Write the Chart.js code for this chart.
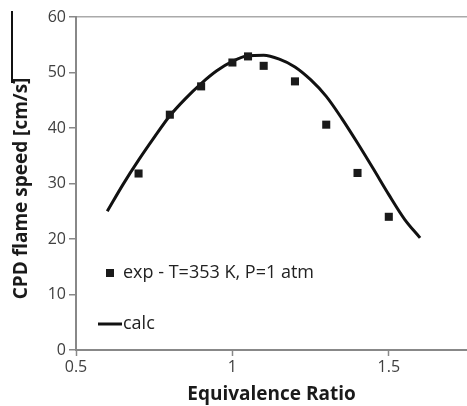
<!DOCTYPE html>
<html>
<head>
<meta charset="utf-8">
<script src="https://cdn.jsdelivr.net/npm/chart.js@4"></script>
<style>
    html, body { margin: 0; padding: 0; background: #fff; overflow: hidden; }
    #wrap { position: relative; width: 467px; height: 406px; }
    #speedChart { display: block; }
    /* 左上角的細黑線（原圖殘留） */
    #edge { position: absolute; left: 11px; top: 11px; width: 2px; height: 72px; background: #111; }
</style>
</head>
<body>
<div id="wrap">
    <canvas id="speedChart" width="467" height="406"></canvas>
    <div id="edge"></div>
</div>
<script>
// 實驗值（方塊）
const expPhi = [0.7, 0.8, 0.9, 1.0, 1.05, 1.1, 1.2, 1.3, 1.4, 1.5];
const expSpeed = [31.8, 42.4, 47.5, 51.8, 52.9, 51.2, 48.4, 40.6, 31.9, 24.0];

// 計算值（曲線）
const calcPhi = [0.6, 0.65, 0.7, 0.75, 0.8, 0.85, 0.9, 0.95, 1.0, 1.05, 1.1,
    1.15, 1.2, 1.25, 1.3, 1.35, 1.4, 1.45, 1.5, 1.55, 1.6];
const calcSpeed = [25.0, 29.8, 34.2, 38.3, 42.2, 45.3, 48.0, 50.3, 52.0, 53.0, 53.1,
    52.4, 51.0, 48.7, 45.7, 41.7, 37.3, 32.7, 28.0, 23.6, 20.2];

const xTicks = [0.5, 1, 1.5];
const yTicks = [0, 10, 20, 30, 40, 50, 60];

const expLabel = "exp - T=353 K, P=1 atm";
const calcLabel = "calc";

const FONT = "'Open Sans', sans-serif";

// 圖內圖例
const insideLegend = {
    id: "insideLegend",
    afterDraw(chart) {
        const { ctx, chartArea } = chart;
        const ds = chart.data.datasets;
        ctx.save();
        ctx.font = "18px " + FONT;
        ctx.textBaseline = "middle";

        // exp 方塊
        const y1 = chartArea.top + 256;
        ctx.fillStyle = ds[0].backgroundColor;
        ctx.fillRect(chartArea.left + 30, y1 - 4, 8, 8);
        ctx.fillStyle = "#222";
        ctx.fillText(ds[0].label, chartArea.left + 47, y1);

        // calc 線
        const y2 = chartArea.top + 307;
        ctx.strokeStyle = ds[1].borderColor;
        ctx.lineWidth = 3;
        ctx.beginPath();
        ctx.moveTo(chartArea.left + 22, y2);
        ctx.lineTo(chartArea.left + 46, y2);
        ctx.stroke();
        ctx.fillText(ds[1].label, chartArea.left + 47, y2);
        ctx.restore();
    }
};

const ctx = document.getElementById("speedChart").getContext("2d");
new Chart(ctx, {
    type: "scatter",
    data: {
        datasets: [{
            label: expLabel,
            data: expPhi.map((x, i) => ({ x, y: expSpeed[i] })),
            pointStyle: "rect",
            pointRadius: 5.7,
            backgroundColor: "#1a1a1a",
            borderColor: "#1a1a1a",
            borderWidth: 0,
            showLine: false
        }, {
            label: calcLabel,
            data: calcPhi.map((x, i) => ({ x, y: calcSpeed[i] })),
            showLine: true,
            borderColor: "#111",
            borderWidth: 3,
            pointRadius: 0,
            tension: 0.4,
            cubicInterpolationMode: "monotone",
            fill: false
        }]
    },
    options: {
        responsive: false,
        animation: false,
        layout: { autoPadding: false, padding: { top: 17, right: 0, left: 0, bottom: 0 } },
        scales: {
            x: {
                type: "linear",
                min: 0.5,
                max: 1.75,
                afterBuildTicks: (s) => { s.ticks = xTicks.map(v => ({ value: v })); },
                afterFit: (s) => { s.height = 56; s.paddingRight = 0; },
                border: { color: "#888", width: 2 },
                grid: { display: true, drawOnChartArea: false, tickLength: 6, tickColor: "#888", tickWidth: 1.5 },
                ticks: {
                    color: "#404040",
                    font: { family: FONT, size: 16 },
                    padding: 2,
                    maxRotation: 0,
                    callback: (v) => String(v)
                },
                title: {
                    display: true,
                    text: "Equivalence Ratio",
                    color: "#1a1a1a",
                    font: { family: FONT, size: 19, weight: "bold" },
                    padding: { top: 0, bottom: 0 }
                }
            },
            y: {
                min: 0,
                max: 60,
                afterBuildTicks: (s) => { s.ticks = yTicks.map(v => ({ value: v })); },
                afterFit: (s) => { s.width = 76; },
                border: { color: "#888", width: 2 },
                grid: {
                    color: (c) => c.tick && c.tick.value === 60 ? "#aaa" : "transparent",
                    lineWidth: 1.5,
                    tickLength: 7,
                    tickColor: "#888",
                    tickWidth: 1.5
                },
                ticks: { color: "#404040", font: { family: FONT, size: 16 }, padding: 3 },
                title: {
                    display: true,
                    // 結尾兩個空白讓標題往下移，對齊原圖
                    text: "CPD flame speed [cm/s]  ",
                    color: "#1a1a1a",
                    font: { family: FONT, size: 19, weight: "bold" },
                    padding: { top: 10, bottom: 0 }
                }
            }
        },
        plugins: {
            legend: { display: false },
            tooltip: { enabled: false }
        }
    },
    plugins: [insideLegend]
});
</script>
</body>
</html>
